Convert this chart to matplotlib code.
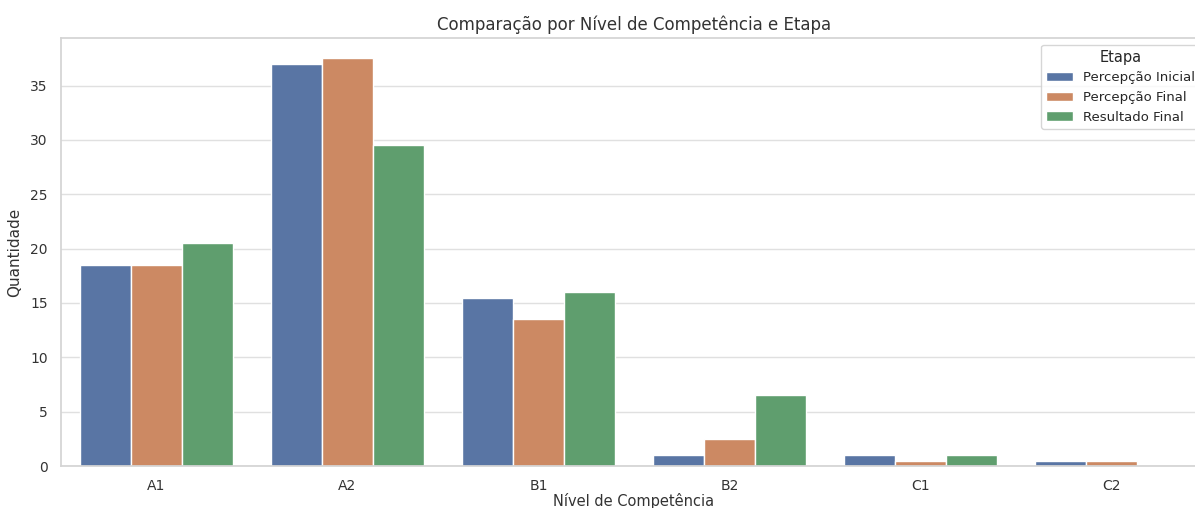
import matplotlib
matplotlib.use("Agg")
import matplotlib.pyplot as plt
import seaborn as sns
import pandas as pd

niveis = ["A1", "A2", "B1", "B2", "C1", "C2"]
etapas = ["Percepção Inicial", "Percepção Final", "Resultado Final"]
percepcao_inicial = [18.5, 37.0, 15.5, 1.0, 1.0, 0.5]
percepcao_final = [18.5, 37.5, 13.5, 2.5, 0.5, 0.5]
resultado_final = [20.5, 29.5, 16.0, 6.5, 1.0, 0.0]

rows = []
for etapa, valores in zip(etapas, [percepcao_inicial, percepcao_final, resultado_final]):
    for nivel, v in zip(niveis, valores):
        rows.append({"Nível de Competência": nivel, "Etapa": etapa, "Quantidade": v})
df = pd.DataFrame(rows)

sns.set_theme(style="whitegrid", rc={"grid.color": "#e0e0e0", "axes.edgecolor": "#d4d4d4"})
plt.rcParams['font.family'] = ['DejaVu Sans']

fig = plt.figure(figsize=(11.95, 5.08), dpi=100)
ax = fig.add_axes([61 / 1195, 42 / 508, 1146 / 1195, 428 / 508])
sns.barplot(data=df, x="Nível de Competência", y="Quantidade", hue="Etapa",
            order=niveis, hue_order=etapas, ax=ax)
ax.set_title("Comparação por Nível de Competência e Etapa", fontsize=12, color="#333333")
ax.set_ylabel("Quantidade", fontsize=11, color="#333333", labelpad=6)
ax.set_xlabel("Nível de Competência", fontsize=10.5, color="#333333", labelpad=0)
ax.tick_params(labelsize=10, labelcolor="#333333")
ax.legend(title="Etapa", loc="upper right", fontsize=9.5, title_fontsize=10.5)

fig.savefig("out.png", dpi=100)
